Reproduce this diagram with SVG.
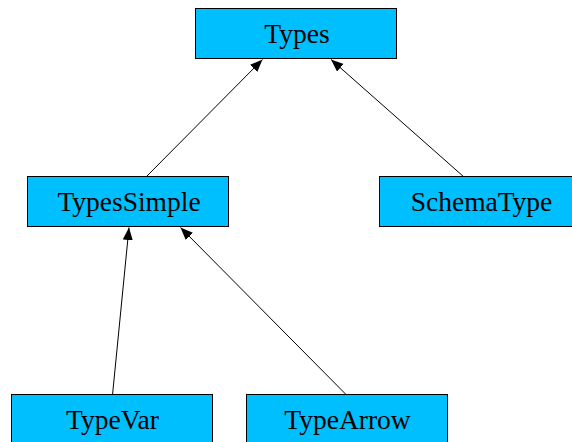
<svg xmlns="http://www.w3.org/2000/svg" width="572" height="442" viewBox="0 0 572 442">
  <style>
    .box { fill: #00bfff; stroke: #000; stroke-width: 1; }
    .lbl { font-family: "Liberation Serif", "Times New Roman", serif; font-size: 27.5px; fill: #000; text-anchor: middle; }
    .edge { stroke: #000; stroke-width: 1; fill: none; marker-end: url(#head); }
  </style>
  <defs>
    <marker id="head" markerUnits="userSpaceOnUse" markerWidth="14" markerHeight="11" refX="12.5" refY="5" orient="auto">
      <path d="M0,0 L12.5,5 L0,10 Z" fill="#000"/>
    </marker>
  </defs>
  <rect width="572" height="442" fill="#fff"/>

  <g id="connectors">
    <line class="edge" x1="146" y1="177" x2="262.5" y2="59.5"/>
    <line class="edge" x1="464" y1="177" x2="331" y2="59.5"/>
    <line class="edge" x1="112.5" y1="395" x2="129" y2="227.5"/>
    <line class="edge" x1="346.5" y1="395" x2="180.5" y2="227.5"/>
  </g>

  <g id="Types">
    <rect class="box" x="195.5" y="8.5" width="201" height="50"/>
    <text class="lbl" x="297" y="43">Types</text>
  </g>
  <g id="TypesSimple">
    <rect class="box" x="27.5" y="176.5" width="201" height="50"/>
    <text class="lbl" x="129" y="210.5">TypesSimple</text>
  </g>
  <g id="SchemaType">
    <rect class="box" x="379.5" y="176.5" width="202" height="50"/>
    <text class="lbl" x="481.5" y="210.5">SchemaType</text>
  </g>
  <g id="TypeVar">
    <rect class="box" x="11.5" y="394.5" width="201" height="50"/>
    <text class="lbl" x="112.5" y="429">TypeVar</text>
  </g>
  <g id="TypeArrow">
    <rect class="box" x="246.5" y="394.5" width="201" height="50"/>
    <text class="lbl" x="347.5" y="429">TypeArrow</text>
  </g>
</svg>
